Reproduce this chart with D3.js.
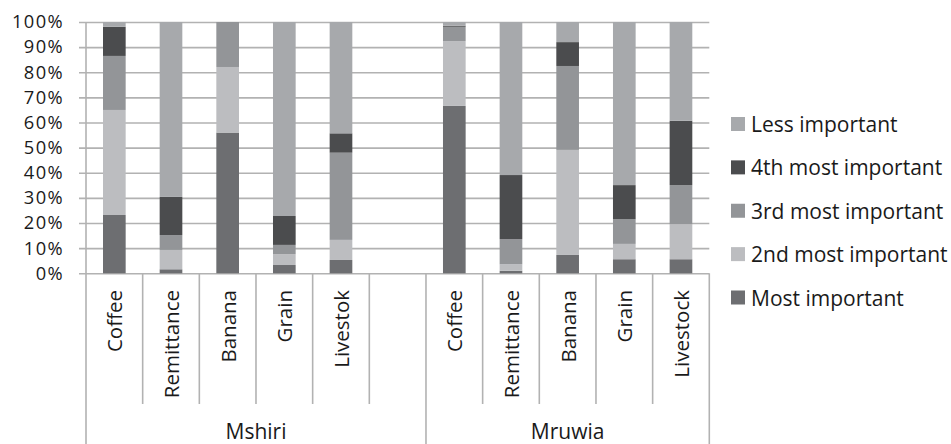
<!DOCTYPE html>
<html>
<head>
<meta charset="utf-8">
<script src="https://cdn.jsdelivr.net/npm/d3@7"></script>
<style>
  html, body { margin: 0; padding: 0; background: #fff; }
  svg { display: block; }
  text { font-family: "Open Sans", "Noto Sans", sans-serif; fill: #1a1a1a; }
</style>
</head>
<body>
<svg id="chart" width="951" height="444"></svg>
<script>
// ---- data ----
const groups = ["Mshiri", "Mruwia"];
const mshiriCrops = ["Coffee", "Remittance", "Banana", "Grain", "Livestok"];
const mruwiaCrops = ["Coffee", "Remittance", "Banana", "Grain", "Livestock"];
const seriesNames = ["Most important", "2nd most important", "3rd most important", "4th most important", "Less important"];
const mostImportant = [23.2, 1.6, 56.0, 3.3, 5.3, 66.6, 1.0, 7.3, 5.6, 5.6];
const secondImportant = [41.8, 7.7, 26.1, 4.3, 8.0, 25.8, 2.6, 41.8, 6.1, 13.9];
const thirdImportant = [21.5, 5.9, 17.9, 3.7, 34.7, 5.7, 10.0, 33.4, 9.8, 15.6];
const fourthImportant = [11.6, 15.2, 0.0, 11.5, 7.7, 0.4, 25.5, 9.5, 13.6, 25.6];
const lessImportant = [1.9, 69.6, 0.0, 77.2, 44.3, 1.5, 60.9, 8.0, 64.9, 39.3];
const yTicks = [0, 0.1, 0.2, 0.3, 0.4, 0.5, 0.6, 0.7, 0.8, 0.9, 1.0];

const colors = ["#6d6e71", "#bcbdc0", "#939598", "#4b4c4e", "#a7a9ac"];
const seriesArrays = [mostImportant, secondImportant, thirdImportant, fourthImportant, lessImportant];

// build rows
const rows = [];
const cropLists = [mshiriCrops, mruwiaCrops];
groups.forEach((g, gi) => {
  cropLists[gi].forEach((c, ci) => {
    const idx = gi * 5 + ci;
    const r = { key: g + "|" + c, group: g, crop: c };
    seriesNames.forEach((s, si) => r[s] = seriesArrays[si][idx]);
    rows.push(r);
  });
});
// domain with one empty slot after the first group
const domain = [];
groups.forEach((g, gi) => {
  cropLists[gi].forEach(c => domain.push(g + "|" + c));
  if (gi === 0) domain.push(g + "|__gap");
});

const svg = d3.select("#chart");
const pLeft = 86, pRight = 709.3, pTop = 22, pBottom = 273.3;

const x = d3.scaleBand().domain(domain).range([pLeft, pRight]).paddingInner(0.6).paddingOuter(0.3);
const y = d3.scaleLinear().domain([0, 1]).range([pBottom, pTop]);
const step = x.step();
const slotStart = k => x(k) - step * 0.3;
const slotCenter = k => x(k) + x.bandwidth() / 2;

const gridColor = "#b2b2b2";
const fs = 21;

// gridlines + y axis
const yAxis = d3.axisLeft(y).tickValues(yTicks).tickFormat(d3.format(".0%"))
  .tickSize(-(pRight - pLeft + 7)).tickPadding(15);
const gy = svg.append("g").attr("transform", `translate(${pLeft - 7},0)`).call(yAxis);
gy.select(".domain").remove();
gy.selectAll(".tick line").attr("stroke", gridColor).attr("stroke-width", 1.6);
gy.selectAll(".tick text").attr("font-size", 18.3).attr("fill", "#1a1a1a")
  .attr("letter-spacing", 1.4)
  .attr("font-family", '"Open Sans", sans-serif');

// stacked bars
const stack = d3.stack().keys(seriesNames).offset(d3.stackOffsetExpand);
const stacked = stack(rows);
svg.append("g").selectAll("g").data(stacked).join("g")
  .attr("fill", (d, i) => colors[i])
  .selectAll("rect").data(d => d).join("rect")
  .attr("x", d => x(d.data.key))
  .attr("width", x.bandwidth())
  .attr("y", d => y(d[1]))
  .attr("height", d => Math.max(0, y(d[0]) - y(d[1])));

// vertical axis line and category separators
const axisG = svg.append("g").attr("stroke", gridColor).attr("stroke-width", 1.6);
axisG.append("line").attr("x1", pLeft).attr("x2", pLeft).attr("y1", pTop).attr("y2", 444);
const groupEnds = new Set([domain.indexOf("Mshiri|__gap") + 1]);
domain.forEach((k, i) => {
  if (i === 0) return;
  const xx = slotStart(k);
  axisG.append("line").attr("x1", xx).attr("x2", xx).attr("y1", pBottom).attr("y2", groupEnds.has(i) ? 444 : 404);
});
axisG.append("line").attr("x1", pRight).attr("x2", pRight).attr("y1", pBottom).attr("y2", 444);

// category labels
rows.forEach(r => {
  svg.append("text")
    .attr("transform", `translate(${slotCenter(r.key)},290) rotate(-90)`)
    .attr("text-anchor", "end").attr("dominant-baseline", "central")
    .attr("font-size", 20.5).text(r.crop);
});

// group labels
const groupSpans = [[pLeft, slotStart("Mruwia|Coffee")], [slotStart("Mruwia|Coffee"), pRight]];
groups.forEach((g, gi) => {
  svg.append("text").attr("x", (groupSpans[gi][0] + groupSpans[gi][1]) / 2).attr("y", 438.5)
    .attr("text-anchor", "middle").attr("font-size", fs).text(g);
});

// legend (reverse order)
const legendOrder = seriesNames.map((s, i) => i).reverse();
const legendY = d3.scalePoint().domain(legendOrder).range([124, 297.5]);
const lg = svg.append("g");
legendOrder.forEach(i => {
  const cy = legendY(i);
  lg.append("rect").attr("x", 731).attr("y", cy - 7).attr("width", 14).attr("height", 14).attr("fill", colors[i]);
  lg.append("text").attr("x", 751).attr("y", cy).attr("dominant-baseline", "central")
    .attr("font-size", fs).text(seriesNames[i]);
});
</script>
</body>
</html>
